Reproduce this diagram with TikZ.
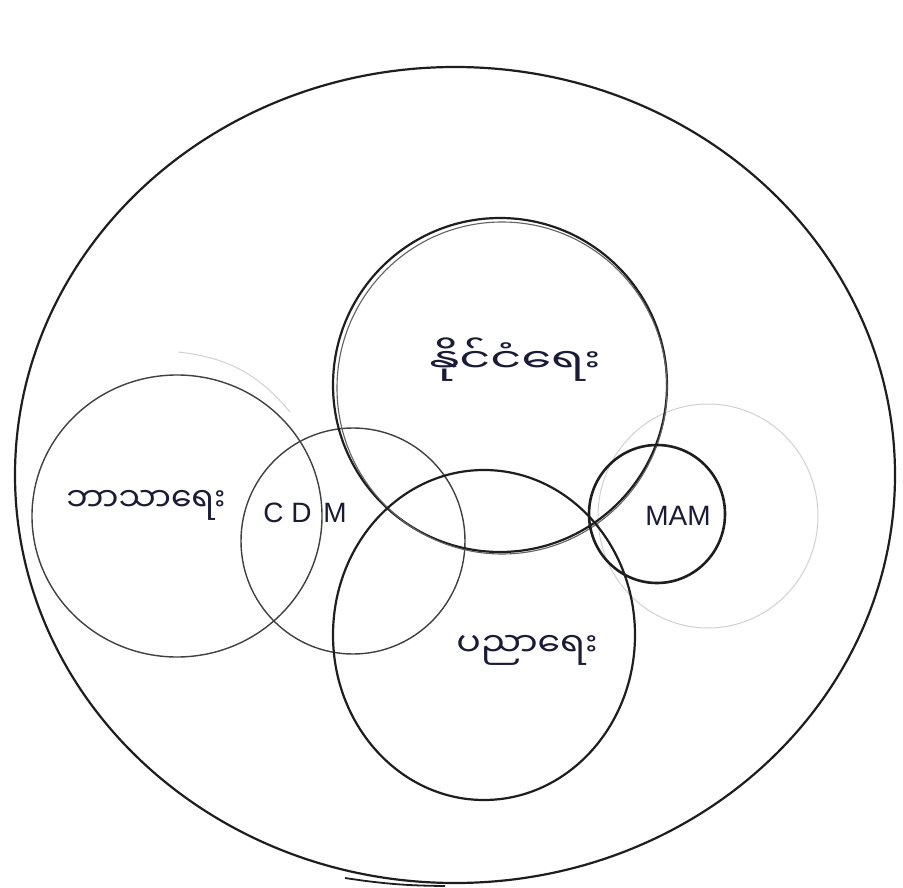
\documentclass[tikz,border=0pt]{standalone}
\usepackage{fontspec}
\newfontfamily\mmfont[Script=Myanmar]{Noto Sans Myanmar UI}
\setmainfont{Liberation Sans}
\definecolor{ink}{HTML}{1A1A3A}
\definecolor{pencil}{HTML}{1E1E1E}
\tikzset{
  ring/.style={draw=pencil, line width=2.2pt},
  thinring/.style={draw=pencil!85, line width=1.4pt},
  faintring/.style={draw=black!18, line width=1pt},
  mmlabel/.style={font=\mmfont\fontsize{33}{38}\selectfont, text=ink, inner sep=1pt},
  latlabel/.style={font=\fontsize{28}{32}\selectfont, text=ink, inner sep=1pt}
}
\begin{document}
\begin{tikzpicture}[x=1pt,y=-1pt]
\useasboundingbox (0,0) rectangle (903,888);
\fill[white] (0,0) rectangle (903,888);
% outer circle
\draw[ring] (455,475) ellipse [x radius=440pt, y radius=408pt];
\draw[pencil, line width=1.8pt] (345,878) to[bend right=4] (445,886);
% faint circles
\draw[faintring] (708,516) ellipse [x radius=110pt, y radius=112pt];
\draw[faintring] (178,352) to[bend left=22] (290,412);
% religion circle
\draw[thinring] (177,516) ellipse [x radius=145pt, y radius=141pt];
% CDM circle
\draw[thinring] (353,541) ellipse [x radius=112pt, y radius=113pt];
% top circle
\draw[ring] (500,385) ellipse [x radius=167pt, y radius=167pt];
\draw[pencil!70, line width=1.1pt] (502,388) ellipse [x radius=165pt, y radius=166pt];
% education circle
\draw[ring] (484,635) ellipse [x radius=151pt, y radius=165pt];
% MAM circle
\draw[ring, line width=2.6pt] (657,514) ellipse [x radius=68pt, y radius=69pt];
% labels
\node[mmlabel, xscale=1.45] (pol) at (515,360) {နိုင်ငံရေး};
\node[mmlabel] (rel) at (146,505) {ဘာသာရေး};
\node[latlabel] (cdm) at (305,513) {C D\hspace{4pt} M};
\node[mmlabel, xscale=1.1] (edu) at (527,650) {ပညာရေး};
\node[latlabel] (mam) at (678,516) {MAM};
\end{tikzpicture}
\end{document}
